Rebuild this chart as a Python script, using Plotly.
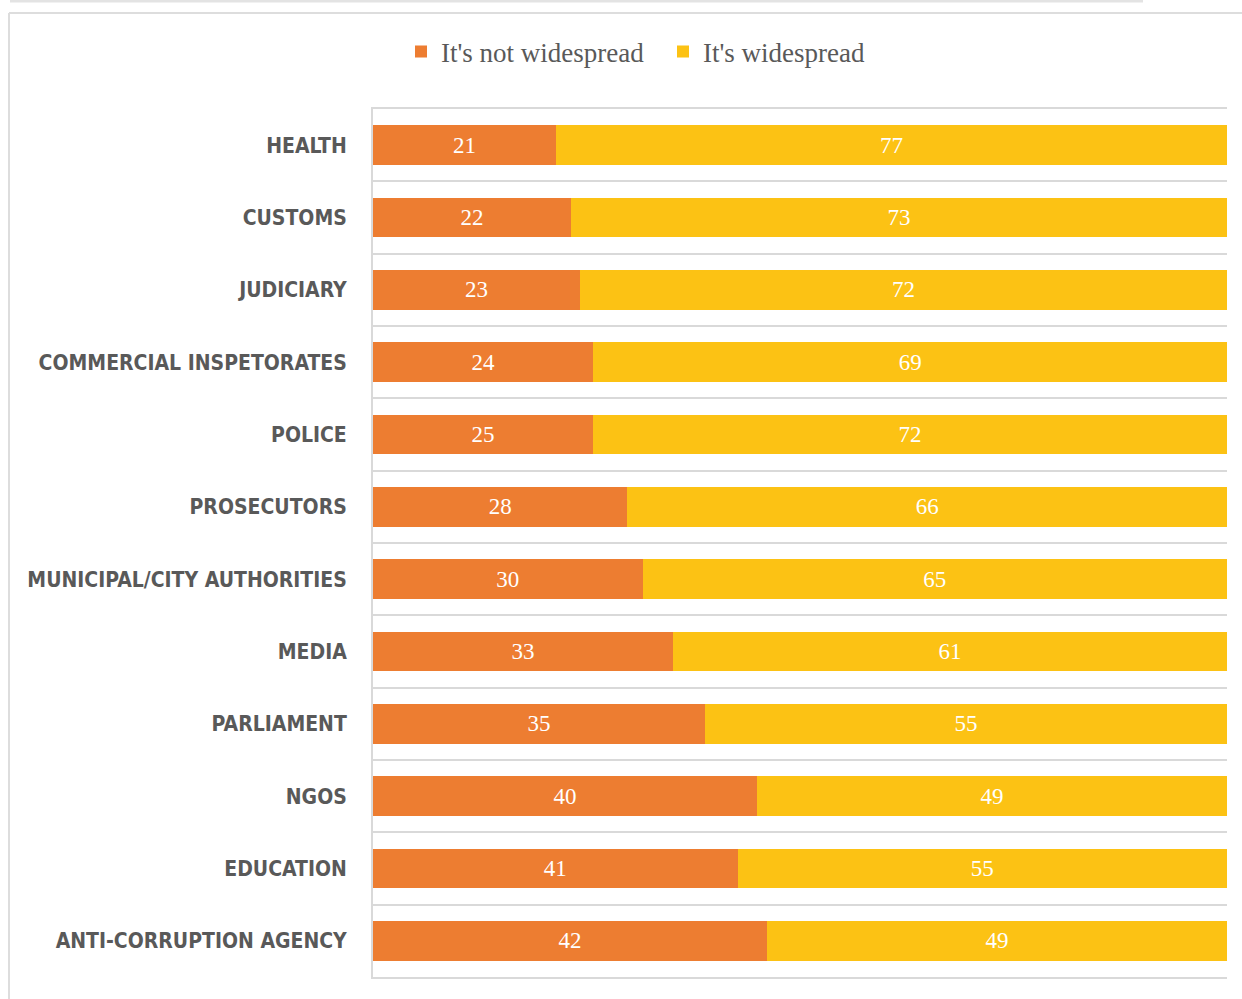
import plotly.graph_objects as go

# Institutions, listed top to bottom
categories = [
    "HEALTH", "CUSTOMS", "JUDICIARY", "COMMERCIAL INSPETORATES", "POLICE",
    "PROSECUTORS", "MUNICIPAL/CITY AUTHORITIES", "MEDIA", "PARLIAMENT",
    "NGOS", "EDUCATION", "ANTI-CORRUPTION AGENCY",
]
not_widespread = [21, 22, 23, 24, 25, 28, 30, 33, 35, 40, 41, 42]
widespread = [77, 73, 72, 69, 72, 66, 65, 61, 55, 49, 55, 49]

ORANGE = "#ED7D31"
YELLOW = "#FCC214"
GRID = "#D9D9D9"
LABEL = "#595959"
SERIF = "Liberation Serif"

# plot area in pixels
W, H = 1242, 999
L, R, T, B = 373, 15, 109, 22
PW, PH = W - L - R, H - T - B


def px_x(px):
    return (px - L) / PW


def px_y(py):
    return (H - B - py) / PH


fig = go.Figure()
for name, vals, color in [
    ("It's not widespread", not_widespread, ORANGE),
    ("It's widespread", widespread, YELLOW),
]:
    fig.add_trace(go.Bar(
        name=name, y=categories, x=vals, orientation="h",
        marker=dict(color=color, line=dict(width=0)),
        text=vals, texttemplate="%{text}", textposition="inside",
        insidetextanchor="middle",
        textfont=dict(family=SERIF, size=23, color="white"),
        hoverinfo="skip",
    ))

fig.update_layout(
    width=W, height=H,
    margin=dict(l=L, r=R, t=T, b=B, autoexpand=False),
    barmode="stack", barnorm="percent", bargap=0.45,
    plot_bgcolor="white", paper_bgcolor="white",
    showlegend=True,
    legend=dict(
        orientation="h", x=px_x(663), xanchor="center",
        y=px_y(52), yanchor="middle",
        font=dict(family=SERIF, size=27, color=LABEL),
        traceorder="normal", itemclick=False, entrywidth=217,
    ),
    xaxis=dict(
        range=[0, 100], showticklabels=False, ticks="",
        showgrid=False, zeroline=False,
        showline=True, linecolor=GRID, linewidth=2, mirror=True,
        fixedrange=True,
    ),
    yaxis=dict(
        type="category", categoryorder="array", categoryarray=categories,
        autorange="reversed", tickson="boundaries", ticks="",
        showgrid=True, gridcolor=GRID, gridwidth=2,
        showline=True, linecolor=GRID, linewidth=2,
        ticklabelstandoff=20,
        tickfont=dict(family="DejaVu Sans Condensed", size=21,
                      color=LABEL, weight="bold"),
        fixedrange=True,
    ),
    shapes=[
        # outer frame
        dict(type="line", xref="paper", yref="paper",
             x0=px_x(9), x1=px_x(1242), y0=px_y(13), y1=px_y(13),
             line=dict(color="#DDDDDD", width=2)),
        dict(type="line", xref="paper", yref="paper",
             x0=px_x(9), x1=px_x(9), y0=px_y(13), y1=px_y(999),
             line=dict(color="#DDDDDD", width=2)),
        dict(type="line", xref="paper", yref="paper",
             x0=px_x(10), x1=px_x(1143), y0=px_y(1), y1=px_y(1),
             line=dict(color="#E3E3E3", width=3)),
    ],
)

fig.write_html("out.html")
